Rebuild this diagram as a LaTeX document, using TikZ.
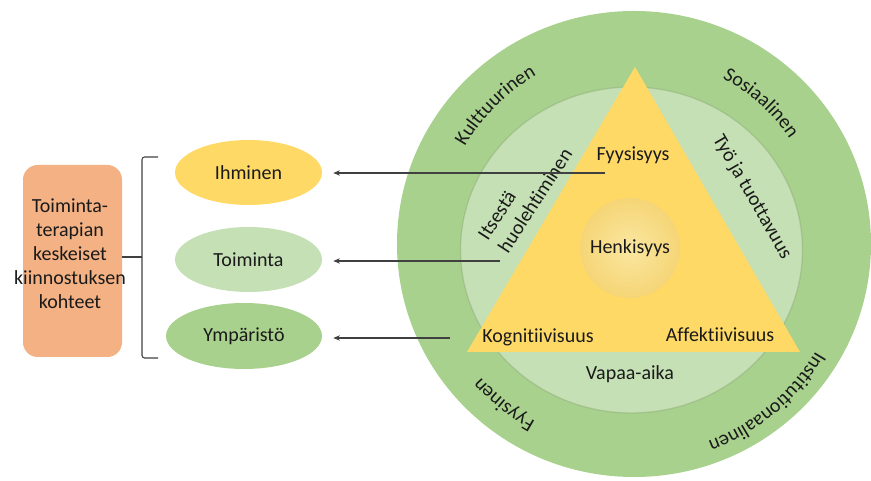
\documentclass[tikz,border=0pt]{standalone}
\usepackage{fontspec}
\setmainfont{Carlito}[Ligatures={NoCommon}]
\usetikzlibrary{shapes.geometric,arrows.meta,decorations.text,calc}
\definecolor{ringout}{HTML}{A9D18E}
\definecolor{ringin}{HTML}{C5E0B4}
\definecolor{tri}{HTML}{FFD966}
\definecolor{henk}{HTML}{FBE7A1}
\definecolor{henkedge}{HTML}{F5D576}
\definecolor{boxc}{HTML}{F4B183}
\definecolor{arrc}{HTML}{404040}
\definecolor{txt}{HTML}{1A1A1A}
\newcommand\lblfont{\fontsize{15}{18}\selectfont}
\tikzset{
  lbl/.style={inner sep=0pt, text=txt, font=\lblfont},
  oval/.style={ellipse, inner sep=0pt, minimum width=110.25pt, minimum height=48.75pt, text=txt, font=\lblfont},
  arr/.style={draw=arrc, line width=0.8pt, -{Stealth[length=5pt,width=4pt]}, shorten >=8.25pt},
  brk/.style={draw=arrc, line width=0.8pt},
  ringtext/.style={decorate, decoration={text along path, text align=center, text color=txt}},
}
\begin{document}
\begin{tikzpicture}[x=0.75pt,y=0.75pt]
\useasboundingbox (0,0) rectangle (871,481);
\clip (0,0) rectangle (871,481);
% rings and triangle
\coordinate (cen) at (634,237);
\fill[ringout] (cen) ellipse [x radius=237, y radius=233];
\fill[ringin, draw=ringout!75!black, draw opacity=0.35, line width=1pt] (631.5,231) ellipse [x radius=171, y radius=163];
\fill[tri] (635,414) -- (800,129) -- (467,129) -- cycle;
\node[circle, minimum size=75pt, inner sep=0pt, inner color=henk, outer color=henkedge, text=txt, font=\lblfont] (henk) at (630,233) {Henkisyys};
% inner labels
\node[lbl] (fyy) at (633,326) {Fyysisyys};
\node[lbl] (kog) at (538,144) {Kognitiivisuus};
\node[lbl] (aff) at (720,146) {Affektiivisuus};
\node[lbl] (vap) at (630,107) {Vapaa-aika};
\node[lbl, rotate=57, align=left] (its) at (525,287) {Itsestä\\huolehtiminen};
\node[lbl, rotate=-60] (tyo) at (752,284) {Työ ja tuottavuus};
% outer ring labels
\path[ringtext, decoration={text={|\lblfont|Kulttuurinen}}] ($(cen)+(170:195)$) arc[start angle=170, end angle=100, radius=195];
\path[ringtext, decoration={text={|\lblfont|Sosiaalinen}}] ($(cen)+(83:188)$) arc[start angle=83, end angle=13, radius=188];
\path[ringtext, decoration={text={|\lblfont|Fyysinen}}] ($(cen)+(266:203)$) arc[start angle=266, end angle=196, radius=203];
\path[ringtext, decoration={text={|\lblfont|Institutionaalinen}}] ($(cen)+(349:211)$) arc[start angle=349, end angle=271, radius=211];
% left side
\node[rounded corners=11pt, fill=boxc, minimum width=74.25pt, minimum height=144pt, inner sep=0pt] (box) at (72.5,220) {};
\node[lbl, align=center] (boxtxt) at (70,227) {Toiminta-\\terapian\\keskeiset\\kiinnostuksen\\kohteet};
\node[oval, fill=tri] (ihm) at (248.5,308.5) {Ihminen};
\node[oval, fill=ringin] (toi) at (248.5,221.5) {Toiminta};
\node[oval, fill=ringout, minimum width=117pt, minimum height=49.5pt] (ymp) at (244,145) {Ympäristö};
\coordinate (bt) at (158,324);
\coordinate (bb) at (158,123);
\coordinate (bm) at (142,224);
\draw[brk, rounded corners=2pt] (bt) -- (142,324) -- (142,123) -- (bb);
\draw[brk] (box.east |- bm) -- (bm);
% arrows
\coordinate (f1) at (605,308);
\coordinate (f2) at (500,220);
\coordinate (f3) at (450,143);
\draw[arr] (f1) -- (f1 -| ihm.east);
\draw[arr] (f2) -- (f2 -| toi.east);
\draw[arr] (f3) -- (f3 -| ymp.east);
\end{tikzpicture}
\end{document}
